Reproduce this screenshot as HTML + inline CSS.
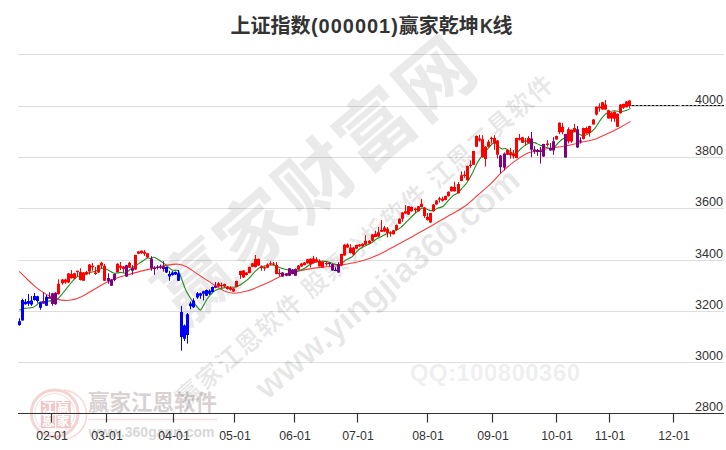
<!DOCTYPE html>
<html lang="zh-CN"><head><meta charset="utf-8"><title>上证指数(000001)赢家乾坤K线</title>
<style>html,body{margin:0;padding:0;background:#fff}body{width:726px;height:450px;overflow:hidden}svg{display:block}text{font-family:"Liberation Sans","Noto Sans CJK SC",sans-serif}</style></head><body>
<svg width="726" height="450" viewBox="0 0 726 450">
<rect width="726" height="450" fill="#fff"/>
<g id="logo">
<circle cx="54.7" cy="413.3" r="23.4" fill="none" stroke="#f5d4d4" stroke-width="3"/>
<circle cx="54.7" cy="413.3" r="19.8" fill="none" stroke="#f6dcdc" stroke-width="1"/>
<path d="M62,389.5A24.6,24.6 0 0 1 62,438.5" fill="none" stroke="#f6dada" stroke-width="1.6" transform="translate(2.2,0.6)"/>
<rect x="40.8" y="401" width="30" height="27.2" fill="#f1c6c6"/>
<path d="M55.6,401V428.2M40.8,414.6H70.8" stroke="#fff" stroke-width="1.3"/>
<g font-size="12.5" font-weight="bold" fill="#fff" text-anchor="middle"><text x="48.2" y="412.4">江</text><text x="63.3" y="412.4">赢</text><text x="48.2" y="426.3">恩</text><text x="63.3" y="426.3">家</text></g>
<text x="88" y="410" font-size="21.4" font-weight="bold" fill="#d8d1d1" textLength="129">赢家江恩软件</text>
<path d="M88,419.5H217" stroke="#f3dede" stroke-width="1.4"/>
<text x="88.5" y="436.6" font-size="14" font-weight="bold" fill="#d8d8d8" textLength="126">www.360gann.com</text>
</g>
<g stroke="#dedede" stroke-width="1">
<path d="M18,54.5H724"/>
<path d="M18,106.5H724"/>
<path d="M18,157.5H724"/>
<path d="M18,208.5H724"/>
<path d="M18,260.5H724"/>
<path d="M18,311.5H724"/>
<path d="M18,362.5H724"/>
</g>
<g id="wm" font-weight="bold">
<text transform="translate(315.5,180.5) rotate(-40.4)" x="0" y="27" text-anchor="middle" font-size="76" fill="#000" fill-opacity="0.083" textLength="390">赢家财富网</text>
<text transform="translate(364.5,241) rotate(-41)" x="0" y="9" text-anchor="middle" font-size="25" fill="#000" fill-opacity="0.095" textLength="490">赢家江恩软件 股票分析软件 江恩工具软件</text>
<text transform="translate(394.8,292.2) rotate(-40.4)" x="0" y="0" text-anchor="middle" font-size="34" fill="#000" fill-opacity="0.095" textLength="335">www.yingjia360.com</text>
<text x="410" y="381" font-size="24" fill="#000" fill-opacity="0.087" textLength="170">QQ:100800360</text>
</g>
<g font-size="20" font-weight="bold" fill="#333">
<text x="230.4" y="33">上证指数</text>
<text x="310.9" y="33" textLength="87">(000001)</text>
<text x="398.8" y="33">赢家乾坤</text>
<text x="479.9" y="33" textLength="13" lengthAdjust="spacingAndGlyphs">K</text>
<text x="492.6" y="33">线</text>
</g>
<path d="M19.2,271.3C20.3,272.4 25.3,277.5 27.4,279.5C29.5,281.5 32.9,284.6 34.9,286.3C36.9,288.0 40.4,290.6 42.4,291.9C44.4,293.2 47.9,295.3 49.9,296.3C51.9,297.3 55.3,298.6 57.3,299.1C59.3,299.6 63.0,300.3 64.8,300.4C66.6,300.5 69.3,300.3 71.0,300.0C72.7,299.7 75.4,299.1 77.2,298.4C79.0,297.7 82.7,296.1 84.7,295.0C86.7,293.9 90.2,291.7 92.2,290.5C94.2,289.3 97.8,287.2 99.6,286.2C101.4,285.2 103.3,284.0 105.8,282.8C108.3,281.6 115.4,278.4 118.2,277.4C121.0,276.4 123.9,275.9 126.7,275.1C129.5,274.3 135.9,272.4 139.1,271.6C142.3,270.8 147.3,269.7 150.9,268.9C154.5,268.1 162.2,266.0 165.9,265.4C169.6,264.8 175.5,264.0 178.3,264.2C181.1,264.4 184.7,265.8 187.0,267.0C189.3,268.2 192.6,270.8 195.8,272.9C199.0,275.0 207.7,280.7 210.7,282.6C213.7,284.5 216.0,286.3 218.0,287.5C220.0,288.7 223.4,290.7 225.6,291.5C227.8,292.3 231.8,293.3 234.7,293.2C237.6,293.1 243.8,291.9 247.1,291.0C250.4,290.1 256.3,287.7 259.6,286.3C262.9,284.9 268.7,282.3 272.0,280.7C275.3,279.1 281.2,275.8 284.5,274.5C287.8,273.2 293.7,272.0 296.9,271.3C300.1,270.6 305.2,269.6 308.4,269.1C311.6,268.6 317.6,267.8 320.9,267.4C324.2,267.0 330.0,266.6 333.3,266.2C336.6,265.8 342.5,264.9 345.8,264.3C349.1,263.7 354.9,262.7 358.2,261.8C361.5,260.9 367.4,259.1 370.7,257.9C374.0,256.7 379.7,254.2 383.1,252.5C386.5,250.8 392.3,247.5 396.0,245.5C399.7,243.5 406.9,239.6 410.9,237.4C414.9,235.2 422.2,231.2 425.8,229.1C429.4,227.0 434.9,223.7 438.2,221.8C441.5,219.9 447.0,216.7 450.7,214.6C454.4,212.5 462.0,208.3 465.6,205.7C469.2,203.1 474.6,198.0 478.0,195.0C481.4,192.0 488.0,186.4 491.2,183.4C494.4,180.4 498.7,175.1 501.8,172.2C504.9,169.3 510.9,164.1 514.2,161.6C517.5,159.1 523.9,154.9 526.7,153.5C529.5,152.1 532.6,151.9 535.0,151.3C537.4,150.7 541.5,149.6 544.4,149.1C547.3,148.6 553.6,147.7 556.9,147.2C560.2,146.7 566.0,146.0 569.3,145.3C572.6,144.6 578.5,143.0 581.8,142.2C585.1,141.4 590.9,140.6 594.2,139.5C597.5,138.4 603.4,135.5 606.7,134.0C610.0,132.5 615.9,129.6 619.1,127.9C622.3,126.2 629.1,122.3 630.6,121.4" fill="none" stroke="#ff3b3b" stroke-width="1.1"/>
<path d="M19.4,310.0C20.1,309.8 23.3,308.6 25.0,308.3C26.7,308.0 30.9,307.9 32.4,307.5C33.9,307.1 35.2,306.1 36.2,305.4C37.2,304.7 38.4,302.4 39.9,301.9C41.4,301.4 45.4,301.5 47.4,301.3C49.4,301.1 53.4,300.7 54.8,300.4C56.2,300.1 57.1,299.5 58.0,298.8C58.9,298.1 60.6,295.9 61.5,294.8C62.4,293.7 63.6,292.3 64.9,290.7C66.2,289.1 69.3,284.9 70.9,283.0C72.5,281.1 75.5,277.9 77.2,276.8C78.9,275.7 81.7,275.6 83.4,275.0C85.1,274.4 87.9,273.1 89.6,272.6C91.3,272.1 94.1,271.7 95.8,271.1C97.5,270.5 100.8,268.6 102.1,268.3C103.4,268.0 104.6,268.5 105.8,268.9C107.0,269.3 109.6,271.0 110.8,271.6C112.0,272.2 113.2,273.2 114.5,273.3C115.8,273.4 119.2,272.4 120.7,272.4C122.2,272.4 124.3,273.5 125.7,273.0C127.1,272.5 129.5,269.8 131.3,268.5C133.1,267.2 137.0,264.8 139.1,263.4C141.2,262.0 145.4,258.9 146.9,258.2C148.4,257.5 149.4,258.5 150.4,258.4C151.4,258.3 152.9,256.7 154.7,257.4C156.5,258.1 161.7,261.7 164.0,263.4C166.3,265.1 170.2,269.1 172.1,270.1C174.0,271.1 177.0,269.5 178.3,270.8C179.6,272.1 181.0,277.4 182.0,280.0C183.0,282.6 184.6,287.6 185.8,290.1C187.0,292.6 189.5,296.8 190.8,298.8C192.1,300.8 194.6,303.9 195.9,305.4C197.2,306.9 199.3,310.1 200.3,310.1C201.3,310.1 202.6,306.9 203.5,305.4C204.4,303.9 206.0,300.5 207.3,298.7C208.6,296.9 211.6,293.3 213.1,292.0C214.6,290.7 217.0,289.7 218.8,289.1C220.6,288.5 224.3,287.7 226.4,287.4C228.5,287.1 232.8,287.5 234.7,287.1C236.6,286.7 239.1,285.6 240.9,284.5C242.7,283.4 246.4,280.7 248.4,278.9C250.4,277.1 254.1,272.4 255.8,270.8C257.5,269.2 259.1,267.7 260.8,267.0C262.5,266.3 266.5,265.4 268.3,265.2C270.1,265.0 272.8,264.8 274.5,265.2C276.2,265.6 278.9,267.3 280.7,267.9C282.5,268.5 286.2,269.4 288.2,269.9C290.2,270.4 294.0,271.6 295.7,271.6C297.4,271.6 299.4,270.6 300.7,270.1C302.0,269.6 304.6,268.3 305.6,267.7C306.6,267.1 307.2,266.3 308.4,265.6C309.6,264.9 313.0,263.1 314.7,262.5C316.4,261.9 319.2,261.3 320.9,261.2C322.6,261.1 325.4,261.3 327.1,261.6C328.8,261.9 331.8,263.3 333.3,263.7C334.8,264.1 337.1,265.0 338.3,264.9C339.5,264.8 341.1,263.8 342.1,263.1C343.1,262.4 344.5,260.8 345.8,260.0C347.1,259.2 350.3,258.2 352.0,256.9C353.7,255.6 356.5,251.4 358.2,250.0C359.9,248.6 362.8,247.2 364.5,246.3C366.2,245.4 369.0,244.2 370.7,243.2C372.4,242.2 375.2,239.8 376.9,238.8C378.6,237.8 381.6,236.4 383.1,235.6C384.6,234.8 386.9,233.6 388.4,233.0C389.9,232.4 393.0,231.9 394.7,231.2C396.4,230.5 399.2,228.7 400.9,227.4C402.6,226.1 405.4,222.9 407.1,221.2C408.8,219.5 411.8,216.4 413.3,215.0C414.8,213.6 417.1,211.5 418.3,210.6C419.5,209.7 421.1,208.3 422.1,208.1C423.1,207.9 424.8,208.5 425.8,208.8C426.8,209.1 428.5,210.2 429.5,210.4C430.5,210.6 432.1,210.7 433.3,210.4C434.5,210.1 436.9,208.6 438.2,208.1C439.5,207.6 441.9,207.3 443.2,206.3C444.5,205.3 446.9,202.1 448.2,200.7C449.5,199.3 451.9,196.8 453.2,195.7C454.5,194.6 456.9,193.8 458.2,192.6C459.5,191.4 461.9,188.3 463.1,187.0C464.3,185.7 465.7,184.5 466.9,182.8C468.1,181.1 470.6,176.7 471.9,174.1C473.2,171.5 475.6,165.9 476.9,163.5C478.2,161.1 480.6,157.8 481.9,156.0C483.2,154.2 485.6,151.4 486.9,149.8C488.2,148.2 490.7,145.1 491.8,144.2C492.9,143.3 494.1,142.6 494.9,142.9C495.7,143.2 497.2,145.3 498.1,146.1C499.0,146.9 500.8,148.6 501.8,148.9C502.8,149.2 504.5,148.2 505.5,148.5C506.5,148.8 508.1,150.3 509.3,151.0C510.5,151.7 513.0,153.8 514.2,153.9C515.4,154.0 517.0,152.5 518.0,151.7C519.0,150.9 520.5,148.9 521.7,147.9C522.9,146.9 525.4,144.9 526.7,144.2C528.0,143.5 530.5,142.6 531.7,142.4C532.9,142.2 534.4,142.6 535.4,142.9C536.4,143.2 537.9,144.3 539.1,144.8C540.3,145.3 542.9,146.3 544.4,146.8C545.9,147.3 549.4,148.4 550.7,148.5C552.0,148.6 553.2,148.1 554.4,147.2C555.6,146.3 558.1,142.8 559.4,141.6C560.7,140.4 563.1,138.6 564.4,137.9C565.7,137.2 568.1,137.1 569.3,136.4C570.5,135.7 572.3,132.9 573.1,132.3C573.9,131.7 574.8,131.5 575.6,131.7C576.4,131.9 578.3,133.6 579.3,134.1C580.3,134.6 581.8,135.6 583.0,135.6C584.2,135.6 586.5,135.0 588.0,134.1C589.5,133.2 592.7,130.9 594.2,129.2C595.7,127.5 597.9,123.6 599.2,121.7C600.5,119.8 602.9,116.6 604.2,115.3C605.5,114.0 607.9,112.6 609.2,112.0C610.5,111.4 612.6,110.9 614.2,110.8C615.8,110.7 619.4,111.7 621.1,111.6C622.8,111.5 625.4,110.7 626.7,110.3C628.0,109.9 630.1,108.6 630.6,108.3" fill="none" stroke="#1e8c1e" stroke-width="1.1"/>
<path d="M58.5,279.3V294.5M62.5,279.0V284.7M65.5,278.8V283.8M68.5,273.0V283.0M71.5,270.1V278.6M74.5,272.8V279.0M77.5,270.8V276.4M80.5,268.3V280.5M83.5,272.0V281.0M86.5,270.8V275.1M89.5,264.0V274.5M92.5,263.0V270.8M95.5,267.0V274.9M98.5,264.8V273.0M101.5,261.8V268.3M104.5,263.9V281.0M117.5,263.3V272.4M120.5,262.0V270.1M123.5,266.0V272.6M129.5,261.8V268.0M135.5,254.6V270.0M138.5,251.0V254.2M141.5,250.3V253.8M144.5,250.0V255.8M147.5,252.8V257.8M218.5,282.0V287.0M221.5,282.6V288.2M224.5,283.6V287.1M227.5,286.1V289.6M230.5,286.3V290.7M233.5,288.2V292.0M236.5,280.7V287.3M240.5,270.7V278.9M243.5,270.0V278.0M246.5,272.2V275.5M249.5,266.6V273.3M252.5,262.9V267.1M255.5,255.0V267.4M258.5,258.5V265.8M261.5,265.2V270.8M264.5,266.4V270.8M267.5,263.3V268.0M270.5,261.2V265.2M273.5,262.0V265.2M276.5,262.0V274.3M279.5,268.9V276.4M298.5,265.0V270.0M301.5,263.0V267.0M304.5,262.0V265.5M307.5,259.0V263.7M310.5,258.3V267.4M313.5,255.9V263.5M316.5,257.2V262.5M319.5,259.3V266.6M322.5,261.4V267.8M326.5,261.6V265.8M341.5,253.7V266.0M344.5,244.3V255.8M347.5,243.4V248.0M350.5,244.2V253.5M353.5,247.1V255.0M356.5,244.6V249.2M359.5,244.0V246.8M362.5,243.3V246.8M365.5,235.1V245.0M369.5,240.2V243.9M372.5,234.0V241.0M375.5,230.7V237.3M378.5,227.0V237.0M381.5,220.0V232.0M384.5,225.8V231.8M387.5,227.0V237.4M390.5,231.2V236.8M393.5,230.0V234.6M396.5,224.6V230.2M399.5,218.4V224.0M402.5,212.2V221.8M405.5,205.0V213.8M408.5,206.0V215.0M411.5,206.5V211.7M415.5,207.5V213.1M418.5,206.0V211.6M421.5,199.2V207.3M424.5,207.2V217.9M427.5,213.1V220.6M430.5,212.8V222.8M433.5,204.1V211.6M436.5,200.1V204.7M439.5,196.9V202.5M442.5,196.7V201.7M445.5,195.6V200.4M448.5,191.4V196.6M451.5,186.4V191.6M454.5,181.7V191.6M458.5,182.0V193.5M461.5,171.3V181.2M464.5,170.9V177.8M467.5,165.7V180.6M470.5,160.4V167.8M473.5,150.7V165.0M476.5,135.5V147.0M479.5,134.8V141.5M482.5,135.2V157.6M485.5,146.4V166.6M488.5,139.8V147.0M491.5,136.6V143.4M494.5,135.2V149.8M497.5,140.0V158.5M507.5,149.5V155.1M510.5,148.0V158.7M513.5,150.0V158.7M516.5,137.7V158.2M519.5,134.0V140.5M522.5,137.0V143.0M525.5,138.0V145.4M528.5,136.1V143.2M547.5,140.1V146.6M556.5,135.7V139.7M559.5,122.4V134.1M562.5,122.9V134.4M568.5,127.3V143.5M571.5,129.5V142.9M574.5,123.9V132.0M583.5,127.6V139.4M586.5,126.7V133.8M589.5,125.7V136.6M593.5,119.1V124.7M596.5,106.4V115.5M599.5,103.3V111.7M602.5,101.9V109.7M605.5,100.0V109.8M608.5,109.8V118.7M611.5,112.3V121.7M614.5,111.4V121.8M617.5,113.5V127.0M620.5,104.1V113.6M623.5,103.6V108.9M626.5,101.0V107.5M629.5,100.3V107.8" stroke="#ff0000" stroke-width="1" fill="none"/>
<path d="M57,283.8h3V294.2h-3zM61,279.5h3V283.2h-3zM64,279.4h3V282.6h-3zM67,273.4h3V282.6h-3zM70,273.9h3V278.2h-3zM73,273.3h3V278.5h-3zM76,270.8h3V272.0h-3zM79,272.0h3V280.1h-3zM82,272.6h3V280.7h-3zM85,272.0h3V274.5h-3zM88,264.5h3V271.6h-3zM91,265.8h3V267.2h-3zM94,272.4h3V274.1h-3zM97,265.2h3V272.6h-3zM100,262.7h3V265.8h-3zM103,265.8h3V280.7h-3zM116,263.7h3V272.0h-3zM119,265.8h3V267.7h-3zM122,266.4h3V268.9h-3zM128,262.7h3V267.7h-3zM134,255.0h3V269.5h-3zM137,251.5h3V253.7h-3zM140,250.8h3V253.3h-3zM143,251.7h3V253.7h-3zM146,253.3h3V257.4h-3zM217,283.2h3V286.5h-3zM220,285.1h3V286.3h-3zM223,284.1h3V286.6h-3zM226,286.6h3V289.1h-3zM229,287.6h3V289.8h-3zM232,288.6h3V291.6h-3zM235,281.1h3V286.9h-3zM239,271.1h3V275.1h-3zM242,270.4h3V277.6h-3zM245,272.6h3V275.1h-3zM248,267.0h3V272.9h-3zM251,263.3h3V266.7h-3zM254,258.9h3V267.0h-3zM257,258.9h3V265.4h-3zM260,266.4h3V267.9h-3zM263,267.2h3V268.5h-3zM266,264.5h3V267.7h-3zM269,263.3h3V264.5h-3zM272,263.6h3V264.8h-3zM275,264.9h3V273.9h-3zM278,273.0h3V274.2h-3zM297,265.5h3V269.7h-3zM300,263.5h3V266.5h-3zM303,262.5h3V265.0h-3zM306,259.3h3V263.3h-3zM309,258.7h3V264.3h-3zM312,258.4h3V263.1h-3zM315,259.3h3V261.8h-3zM318,260.8h3V266.2h-3zM321,261.8h3V267.4h-3zM325,263.0h3V264.2h-3zM340,254.1h3V265.6h-3zM343,244.7h3V255.4h-3zM346,244.4h3V247.5h-3zM349,247.5h3V253.1h-3zM352,247.5h3V254.6h-3zM355,245.0h3V248.8h-3zM358,244.4h3V246.3h-3zM361,243.8h3V246.3h-3zM364,240.7h3V244.7h-3zM368,240.7h3V243.4h-3zM371,234.4h3V240.7h-3zM374,233.8h3V236.9h-3zM377,232.2h3V236.5h-3zM380,230.0h3V231.8h-3zM383,227.5h3V231.4h-3zM386,228.7h3V233.0h-3zM389,232.4h3V233.7h-3zM392,230.3h3V234.3h-3zM395,224.9h3V229.9h-3zM398,218.7h3V223.7h-3zM401,212.5h3V218.7h-3zM404,211.3h3V213.4h-3zM407,206.3h3V214.6h-3zM410,206.9h3V211.3h-3zM414,208.8h3V210.0h-3zM417,206.3h3V211.3h-3zM420,203.8h3V206.9h-3zM423,207.5h3V215.9h-3zM426,216.9h3V220.0h-3zM429,213.1h3V222.5h-3zM432,204.4h3V211.3h-3zM435,200.4h3V204.4h-3zM438,198.2h3V199.7h-3zM441,198.8h3V200.7h-3zM444,195.9h3V200.1h-3zM447,191.7h3V196.3h-3zM450,186.7h3V191.3h-3zM453,187.0h3V191.3h-3zM457,183.9h3V193.2h-3zM460,175.3h3V180.9h-3zM463,174.7h3V176.0h-3zM466,166.0h3V180.3h-3zM469,164.7h3V166.0h-3zM472,151.0h3V164.7h-3zM475,136.1h3V146.7h-3zM478,138.6h3V140.4h-3zM481,139.2h3V157.3h-3zM484,146.7h3V159.1h-3zM487,141.7h3V146.7h-3zM490,137.8h3V139.0h-3zM493,138.0h3V143.6h-3zM496,140.4h3V154.8h-3zM506,149.8h3V154.8h-3zM509,152.4h3V155.3h-3zM512,153.9h3V156.3h-3zM515,138.0h3V157.9h-3zM518,138.0h3V139.8h-3zM521,137.3h3V142.7h-3zM524,140.4h3V141.7h-3zM527,138.0h3V142.9h-3zM546,143.5h3V145.1h-3zM555,136.0h3V139.4h-3zM558,122.7h3V132.3h-3zM561,126.7h3V132.3h-3zM567,129.2h3V141.6h-3zM570,129.8h3V141.4h-3zM573,127.9h3V131.7h-3zM582,127.9h3V139.1h-3zM585,127.9h3V133.5h-3zM588,126.0h3V132.9h-3zM592,119.4h3V124.4h-3zM595,106.7h3V114.6h-3zM598,106.6h3V108.2h-3zM601,102.2h3V109.4h-3zM604,104.4h3V109.4h-3zM607,110.2h3V118.4h-3zM610,112.6h3V118.6h-3zM613,111.7h3V118.8h-3zM616,113.8h3V126.7h-3zM619,104.4h3V113.3h-3zM622,103.9h3V107.8h-3zM625,101.4h3V107.2h-3zM628,100.6h3V106.1h-3z" fill="#ff0000"/>
<path d="M19.5,318.3V325.8M22.5,298.8V320.5M25.5,299.0V304.7M28.5,294.0V305.9M31.5,296.0V305.9M34.5,293.0V300.7M37.5,295.8V302.7M40.5,301.9V309.7M46.5,295.0V305.7M166.5,266.5V273.0M169.5,270.8V280.7M172.5,271.1V275.7M175.5,271.5V275.0M178.5,270.1V281.0M181.5,305.9V350.6M184.5,324.5V341.0M187.5,313.0V343.6M190.5,301.5V309.2M193.5,298.3V307.8M197.5,292.0V298.8M200.5,292.8V298.8M203.5,290.8V300.5M206.5,289.5V296.0M209.5,289.4V295.0M212.5,286.5V292.3M335.5,267.2V270.9" stroke="#0000ff" stroke-width="1" fill="none"/>
<path d="M18,321.2h3V324.9h-3zM21,300.0h3V320.5h-3zM24,301.7h3V304.3h-3zM27,301.0h3V303.7h-3zM30,300.5h3V304.6h-3zM33,296.0h3V300.0h-3zM36,296.3h3V301.0h-3zM39,302.3h3V307.7h-3zM45,296.7h3V305.7h-3zM165,267.0h3V272.6h-3zM168,273.9h3V276.6h-3zM171,272.6h3V275.1h-3zM174,272.0h3V274.5h-3zM177,273.3h3V280.7h-3zM180,312.0h3V336.9h-3zM183,325.4h3V338.8h-3zM186,314.3h3V335.0h-3zM189,303.4h3V306.3h-3zM192,300.6h3V307.3h-3zM196,293.3h3V297.5h-3zM199,293.2h3V295.7h-3zM202,291.3h3V293.8h-3zM205,290.0h3V295.7h-3zM208,290.7h3V293.8h-3zM211,287.0h3V291.9h-3zM334,269.8h3V271.1h-3z" fill="#0000ff"/>
<path d="M43.5,292.3V303.7M49.5,292.3V298.7M52.5,292.8V305.7M55.5,292.2V304.8M108.5,273.3V283.8M111.5,279.0V286.0M114.5,273.5V281.3M126.5,264.8V277.0M132.5,265.2V274.7M151.5,256.2V270.8M154.5,266.2V274.9M157.5,265.2V269.5M160.5,264.5V268.9M163.5,261.2V271.6M215.5,282.0V288.2M282.5,272.0V277.0M286.5,273.0V276.2M289.5,268.0V276.0M292.5,269.0V274.3M295.5,268.5V276.0M329.5,262.8V266.2M332.5,263.7V270.9M338.5,262.1V272.8M500.5,155.0V173.4M504.5,152.5V170.3M531.5,132.0V157.3M534.5,146.0V153.9M537.5,149.0V155.8M540.5,147.0V163.6M543.5,143.8V156.8M550.5,143.0V150.6M553.5,137.2V154.8M565.5,133.8V157.8M577.5,126.0V147.9M580.5,137.3V143.5" stroke="#800080" stroke-width="1" fill="none"/>
<path d="M42,301.3h3V303.7h-3zM48,297.0h3V298.7h-3zM51,293.3h3V304.0h-3zM54,292.7h3V304.3h-3zM107,277.9h3V281.3h-3zM110,279.5h3V285.7h-3zM113,273.9h3V279.9h-3zM125,265.2h3V276.6h-3zM131,267.7h3V270.8h-3zM150,258.7h3V268.3h-3zM153,267.4h3V268.9h-3zM156,266.8h3V268.0h-3zM159,266.4h3V267.7h-3zM162,266.2h3V268.9h-3zM214,285.7h3V287.8h-3zM281,272.4h3V276.6h-3zM285,273.6h3V275.7h-3zM288,268.3h3V275.7h-3zM291,269.5h3V273.9h-3zM294,268.9h3V275.7h-3zM328,262.7h3V263.9h-3zM331,264.1h3V270.5h-3zM337,264.3h3V272.4h-3zM499,155.4h3V167.2h-3zM503,153.5h3V167.8h-3zM530,138.6h3V149.8h-3zM533,149.5h3V151.4h-3zM536,150.0h3V152.0h-3zM539,150.5h3V152.0h-3zM542,144.1h3V156.5h-3zM549,148.0h3V150.4h-3zM552,141.2h3V150.4h-3zM564,134.1h3V157.5h-3zM576,129.2h3V147.6h-3zM579,140.5h3V141.7h-3z" fill="#800080"/>
<path d="M631.5,105.5H680M681.5,105.5H724" stroke="#111" stroke-width="1.2" stroke-dasharray="3,1"/>
<path d="M18,413.5H724" stroke="#333" stroke-width="1.2"/>
<g stroke="#333" stroke-width="1.2">
<path d="M51.5,413.5V422.5"/>
<path d="M106.5,413.5V422.5"/>
<path d="M173.5,413.5V422.5"/>
<path d="M234.5,413.5V422.5"/>
<path d="M294.5,413.5V422.5"/>
<path d="M357.5,413.5V422.5"/>
<path d="M427.5,413.5V422.5"/>
<path d="M492.5,413.5V422.5"/>
<path d="M556.5,413.5V422.5"/>
<path d="M609.5,413.5V422.5"/>
<path d="M673.5,413.5V422.5"/>
</g>
<g font-size="12.3" fill="#333" text-anchor="middle">
<text x="52.0" y="439.6">02-01</text>
<text x="107.0" y="439.6">03-01</text>
<text x="174.0" y="439.6">04-01</text>
<text x="235.0" y="439.6">05-01</text>
<text x="295.0" y="439.6">06-01</text>
<text x="358.0" y="439.6">07-01</text>
<text x="428.0" y="439.6">08-01</text>
<text x="493.0" y="439.6">09-01</text>
<text x="557.0" y="439.6">10-01</text>
<text x="610.0" y="439.6">11-01</text>
<text x="674.0" y="439.6">12-01</text>
</g>
<g font-size="12.6" fill="#333" text-anchor="end">
<text x="723" y="103.7">4000</text>
<text x="723" y="154.7">3800</text>
<text x="723" y="205.7">3600</text>
<text x="723" y="257.7">3400</text>
<text x="723" y="308.7">3200</text>
<text x="723" y="359.7">3000</text>
<text x="723" y="410.7">2800</text>
</g>
</svg></body></html>
